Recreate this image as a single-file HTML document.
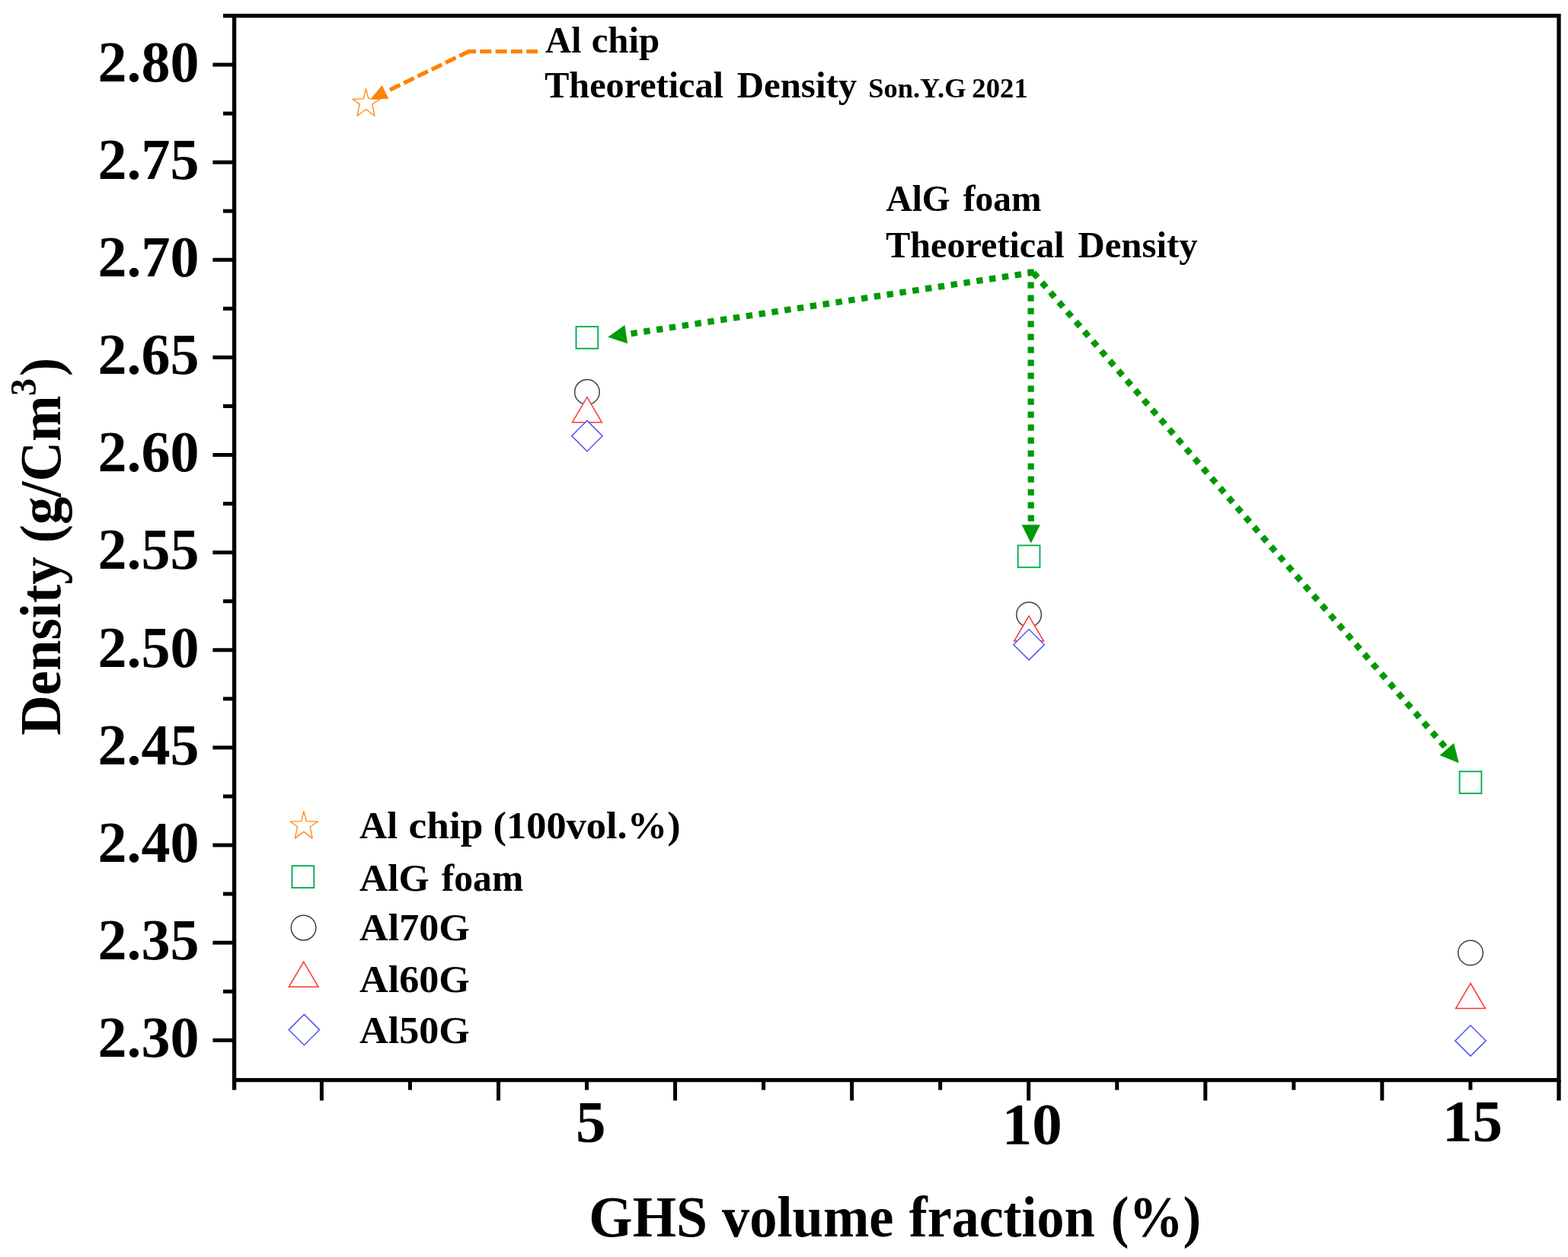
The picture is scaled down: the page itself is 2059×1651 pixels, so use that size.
<!DOCTYPE html>
<html lang="en">
<head>
<meta charset="utf-8">
<title>Density vs GHS volume fraction</title>
<style>
html,body{margin:0;padding:0;background:#fff;}
body{width:2059px;height:1651px;overflow:hidden;}
svg{display:block;}
text{font-family:"Liberation Serif", "DejaVu Serif", serif;font-weight:bold;fill:#000;}
.ax{stroke:#000;stroke-width:5.30;fill:none;stroke-linecap:butt;}
.tk{stroke:#000;stroke-width:5.00;fill:none;stroke-linecap:butt;}
.mk{fill:#fff;stroke-width:1.5;stroke-linejoin:miter;}
</style>
</head>
<body>
<svg width="2059" height="1651" viewBox="0 0 2059 1651" role="img" aria-label="Density versus GHS volume fraction">
<rect x="0" y="0" width="2059" height="1651" fill="#ffffff"/>
<g class="ax">
<line x1="293.00" y1="20.70" x2="307.60" y2="20.70"/>
<line x1="307.60" y1="1418.60" x2="307.60" y2="1431.60"/>
<line x1="2047.00" y1="1418.60" x2="2047.00" y2="1445.50"/>
</g>
<g class="tk">
<line x1="279.40" y1="85.00" x2="307.60" y2="85.00"/>
<line x1="293.00" y1="149.06" x2="307.60" y2="149.06"/>
<line x1="279.40" y1="213.13" x2="307.60" y2="213.13"/>
<line x1="293.00" y1="277.19" x2="307.60" y2="277.19"/>
<line x1="279.40" y1="341.26" x2="307.60" y2="341.26"/>
<line x1="293.00" y1="405.32" x2="307.60" y2="405.32"/>
<line x1="279.40" y1="469.39" x2="307.60" y2="469.39"/>
<line x1="293.00" y1="533.45" x2="307.60" y2="533.45"/>
<line x1="279.40" y1="597.52" x2="307.60" y2="597.52"/>
<line x1="293.00" y1="661.59" x2="307.60" y2="661.59"/>
<line x1="279.40" y1="725.65" x2="307.60" y2="725.65"/>
<line x1="293.00" y1="789.71" x2="307.60" y2="789.71"/>
<line x1="279.40" y1="853.78" x2="307.60" y2="853.78"/>
<line x1="293.00" y1="917.84" x2="307.60" y2="917.84"/>
<line x1="279.40" y1="981.91" x2="307.60" y2="981.91"/>
<line x1="293.00" y1="1045.97" x2="307.60" y2="1045.97"/>
<line x1="279.40" y1="1110.04" x2="307.60" y2="1110.04"/>
<line x1="293.00" y1="1174.10" x2="307.60" y2="1174.10"/>
<line x1="279.40" y1="1238.17" x2="307.60" y2="1238.17"/>
<line x1="293.00" y1="1302.24" x2="307.60" y2="1302.24"/>
<line x1="279.40" y1="1366.30" x2="307.60" y2="1366.30"/>
<line x1="422.40" y1="1418.60" x2="422.40" y2="1445.50"/>
<line x1="538.44" y1="1418.60" x2="538.44" y2="1431.60"/>
<line x1="654.48" y1="1418.60" x2="654.48" y2="1445.50"/>
<line x1="770.52" y1="1418.60" x2="770.52" y2="1431.60"/>
<line x1="886.56" y1="1418.60" x2="886.56" y2="1445.50"/>
<line x1="1002.60" y1="1418.60" x2="1002.60" y2="1431.60"/>
<line x1="1118.64" y1="1418.60" x2="1118.64" y2="1445.50"/>
<line x1="1234.68" y1="1418.60" x2="1234.68" y2="1431.60"/>
<line x1="1350.72" y1="1418.60" x2="1350.72" y2="1445.50"/>
<line x1="1466.76" y1="1418.60" x2="1466.76" y2="1431.60"/>
<line x1="1582.80" y1="1418.60" x2="1582.80" y2="1445.50"/>
<line x1="1698.84" y1="1418.60" x2="1698.84" y2="1431.60"/>
<line x1="1814.88" y1="1418.60" x2="1814.88" y2="1445.50"/>
<line x1="1930.92" y1="1418.60" x2="1930.92" y2="1431.60"/>
</g>
<rect class="ax" x="307.60" y="20.70" width="1739.40" height="1397.90"/>
<g font-size="76" text-anchor="end">
<text x="261.4" y="106.8">2.80</text>
<text x="261.4" y="234.9">2.75</text>
<text x="261.4" y="363.1">2.70</text>
<text x="261.4" y="491.2">2.65</text>
<text x="261.4" y="619.3">2.60</text>
<text x="261.4" y="747.4">2.55</text>
<text x="261.4" y="875.6">2.50</text>
<text x="261.4" y="1003.7">2.45</text>
<text x="261.4" y="1131.8">2.40</text>
<text x="261.4" y="1260.0">2.35</text>
<text x="261.4" y="1388.1">2.30</text>
</g>
<g text-anchor="start">
<text font-size="79" x="756.1" y="1499.7">5</text>
<text font-size="79" x="1315.7" y="1502.9">10</text>
<text font-size="79" x="1893.9" y="1499.4">15</text>
</g>
<text font-size="76" text-anchor="middle" transform="translate(78.8 717.8) rotate(-90) scale(0.9565 1)">Density (g/Cm<tspan font-size="48" dy="-31.5" dx="-0.6">3</tspan><tspan dy="31.5" dx="3.2">)</tspan></text>
<text font-size="48" y="69.4"><tspan x="716.0" textLength="47.3" lengthAdjust="spacingAndGlyphs">Al</tspan> <tspan x="776.7" textLength="89.5" lengthAdjust="spacingAndGlyphs">chip</tspan></text>
<text font-size="48" y="128.1"><tspan x="715.2" textLength="234.8" lengthAdjust="spacingAndGlyphs">Theoretical</tspan> <tspan x="967.7" textLength="157.5" lengthAdjust="spacingAndGlyphs">Density</tspan> <tspan x="1140.2" font-size="35.5" textLength="128.3" lengthAdjust="spacingAndGlyphs">Son.Y.G</tspan> <tspan x="1276.3" font-size="35.5" textLength="73.6" lengthAdjust="spacingAndGlyphs">2021</tspan></text>
<text font-size="48" y="277.3"><tspan x="1163.4" textLength="84.3" lengthAdjust="spacingAndGlyphs">AlG</tspan> <tspan x="1264.7" textLength="102.8" lengthAdjust="spacingAndGlyphs">foam</tspan></text>
<text font-size="48" y="337.5"><tspan x="1163.2" textLength="234.5" lengthAdjust="spacingAndGlyphs">Theoretical</tspan> <tspan x="1415.4" textLength="157.4" lengthAdjust="spacingAndGlyphs">Density</tspan></text>
<text font-size="51" y="1101.2"><tspan x="472.0" textLength="50.1" lengthAdjust="spacingAndGlyphs">Al</tspan> <tspan x="536.6" textLength="97.8" lengthAdjust="spacingAndGlyphs">chip</tspan> <tspan x="647.5" textLength="246.1" lengthAdjust="spacingAndGlyphs">(100vol.%)</tspan></text>
<text font-size="51" y="1169.7"><tspan x="472.0" textLength="91.7" lengthAdjust="spacingAndGlyphs">AlG</tspan> <tspan x="579.8" textLength="107.4" lengthAdjust="spacingAndGlyphs">foam</tspan></text>
<text font-size="51" y="1235.3"><tspan x="472.0" textLength="144.8" lengthAdjust="spacingAndGlyphs">Al70G</tspan></text>
<text font-size="51" y="1303.3"><tspan x="472.0" textLength="144.8" lengthAdjust="spacingAndGlyphs">Al60G</tspan></text>
<text font-size="51" y="1369.7"><tspan x="472.0" textLength="144.8" lengthAdjust="spacingAndGlyphs">Al50G</tspan></text>
<text font-size="76" y="1623.6"><tspan x="773.3" textLength="155.7" lengthAdjust="spacingAndGlyphs">GHS</tspan> <tspan x="948.0" textLength="225.5" lengthAdjust="spacingAndGlyphs">volume</tspan> <tspan x="1193.7" textLength="244.0" lengthAdjust="spacingAndGlyphs">fraction</tspan> <tspan x="1458.8" textLength="118.5" lengthAdjust="spacingAndGlyphs">(%)</tspan></text>
<line x1="706.2" y1="67.7" x2="614.4" y2="67.7" fill="none" stroke="#ff8200" stroke-width="5.3" stroke-dasharray="15 5.3"/>
<line x1="616.7" y1="67.0" x2="507.5" y2="120.2" fill="none" stroke="#ff8200" stroke-width="5.3" stroke-dasharray="15 5.3"/>
<line x1="1357.8" y1="357.7" x2="821.4" y2="439.3" stroke="#009a06" stroke-width="8.2" stroke-dasharray="8.4 8.6"/>
<polygon points="798.2,442.8 820.4,427.1 824.1,451.2" fill="#009a06"/>
<line x1="1353.6" y1="353.4" x2="1353.8" y2="690.1" stroke="#009a06" stroke-width="8.2" stroke-dasharray="8.4 8.6"/>
<polygon points="1353.8,713.6 1341.6,689.3 1365.9,689.3" fill="#009a06"/>
<line x1="1357.0" y1="358.2" x2="1900.4" y2="984.5" stroke="#009a06" stroke-width="8.2" stroke-dasharray="8.4 8.6"/>
<polygon points="1915.8,1002.3 1890.7,991.9 1909.1,976.0" fill="#009a06"/>
<polygon class="mk" points="480.6,116.6 483.9,129.7 499.1,130.3 488.9,136.9 491.9,152.2 480.6,143.5 469.1,152.2 472.2,136.9 462.9,130.3 477.4,129.7" stroke="#ff8a10" style="stroke-width:1.35;stroke-linejoin:round"/>
<polygon points="486.6,130.3 501.7,112.0 510.3,129.7" fill="#ff8200"/>
<rect class="mk" x="756.5" y="429.0" width="28.8" height="28.8" stroke="#00b050" style="stroke-width:1.9"/>
<circle class="mk" cx="770.9" cy="514.9" r="16.3" stroke="#404040"/>
<polygon class="mk" points="770.9,521.7 790.3,554.7 751.5,554.7" stroke="#ff3535"/>
<polygon class="mk" points="770.9,552.4 791.1,572.6 770.9,592.8 750.7,572.6" stroke="#5555ff"/>
<rect class="mk" x="1336.7" y="716.4" width="28.8" height="28.8" stroke="#00b050" style="stroke-width:1.9"/>
<circle class="mk" cx="1351.1" cy="807.2" r="16.3" stroke="#404040"/>
<polygon class="mk" points="1351.1,809.1 1370.5,842.1 1331.7,842.1" stroke="#ff3535"/>
<polygon class="mk" points="1351.1,826.5 1371.3,846.7 1351.1,866.9 1330.9,846.7" stroke="#5555ff"/>
<rect class="mk" x="1916.6" y="1013.3" width="28.8" height="28.8" stroke="#00b050" style="stroke-width:1.9"/>
<circle class="mk" cx="1931.0" cy="1251.5" r="16.3" stroke="#404040"/>
<polygon class="mk" points="1931.0,1291.5 1950.4,1324.5 1911.6,1324.5" stroke="#ff3535"/>
<polygon class="mk" points="1931.0,1346.7 1951.2,1366.9 1931.0,1387.1 1910.8,1366.9" stroke="#5555ff"/>
<polygon class="mk" points="398.9,1065.5 402.2,1078.6 417.4,1079.2 407.2,1085.8 410.2,1101.1 398.9,1092.4 387.4,1101.1 390.6,1085.8 381.3,1079.2 395.8,1078.6" stroke="#ff8a10" style="stroke-width:1.35;stroke-linejoin:round"/>
<rect class="mk" x="383.5" y="1137.2" width="28.8" height="28.8" stroke="#00b050" style="stroke-width:1.9"/>
<circle class="mk" cx="398.6" cy="1218.6" r="16.3" stroke="#404040"/>
<polygon class="mk" points="398.7,1263.3 418.1,1296.3 379.3,1296.3" stroke="#ff3535"/>
<polygon class="mk" points="399.4,1332.4 419.6,1352.6 399.4,1372.8 379.2,1352.6" stroke="#5555ff"/>
</svg>
</body>
</html>
